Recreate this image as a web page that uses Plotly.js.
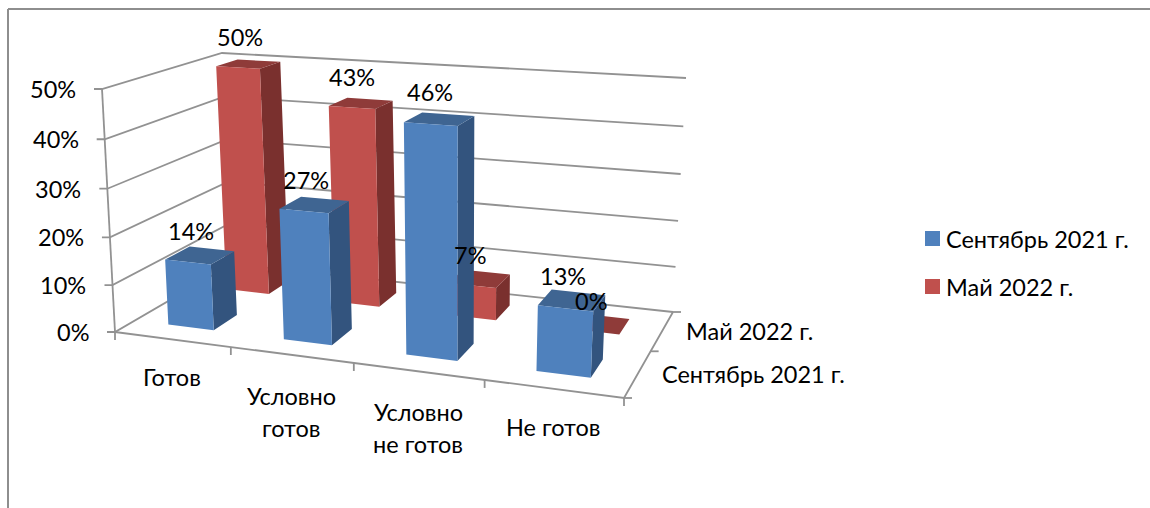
<!DOCTYPE html>
<html><head><meta charset="utf-8">
<script src="https://cdn.plot.ly/plotly-3.0.1.min.js"></script>
<style>html,body{margin:0;padding:0;background:#fff}#c{width:1150px;height:508px}</style>
</head><body><div id="c"></div>
<script>
const categories = [['Готов'], ['Условно','готов'], ['Условно','не готов'], ['Не готов']];
const seriesNames = ['Сентябрь 2021 г.', 'Май 2022 г.'];
const september = [14, 27, 46, 13];
const may = [50, 43, 7, 0];
const valueTicks = [0, 10, 20, 30, 40, 50];

const FONT = 'Lato, "Open Sans", sans-serif';
const FS = 23.5;
const BLUE = {front:'#4F81BD', top:'#3F6592', side:'#33547E'};
const RED  = {front:'#C0504D', top:'#8F3B39', side:'#7A302E'};
const GRID = '#929292';

// Projection of the chart box (category, series, value) onto the page
function squareToQuad(q){
  const [p0,p1,p2,p3]=q;
  const sx=p0[0]-p1[0]+p2[0]-p3[0], sy=p0[1]-p1[1]+p2[1]-p3[1];
  const d1x=p1[0]-p2[0], d1y=p1[1]-p2[1], d2x=p3[0]-p2[0], d2y=p3[1]-p2[1];
  const den=d1x*d2y-d2x*d1y;
  const g=(sx*d2y-d2x*sy)/den, h=(d1x*sy-sx*d1y)/den;
  const a=p1[0]-p0[0]+g*p1[0], b=p3[0]-p0[0]+h*p3[0];
  const d=p1[1]-p0[1]+g*p1[1], e=p3[1]-p0[1]+h*p3[1];
  return (u,v)=>{const w=g*u+h*v+1;return [(a*u+b*v+p0[0])/w,(d*u+e*v+p0[1])/w];};
}
const floorQ = squareToQuad([[115,332],[624,398],[673,312],[232,264]]);
const ceilQ  = squareToQuad([[102,89],[637,125],[686,78],[222,53]]);
const nC = categories.length, nS = seriesNames.length, vMax = 50;
function P(c,s,val){
  const u=c/nC, v=s/nS, t=val/vMax, tt=t*(1-0.043*(1-t));
  const a=floorQ(u,v), b=ceilQ(u,v);
  return [a[0]+(b[0]-a[0])*tt, a[1]+(b[1]-a[1])*tt];
}

const traces=[];
function lineTrace(paths,width){
  const x=[],y=[];
  paths.forEach(pts=>{pts.forEach(p=>{x.push(p[0]);y.push(p[1]);});x.push(null);y.push(null);});
  traces.push({type:'scatter',mode:'lines',x,y,line:{color:GRID,width:width||1.8},hoverinfo:'skip',showlegend:false});
}
// walls, floor, ticks
const walls=[];
valueTicks.forEach(v=>{
  const a=P(0,0,v);
  walls.push([[a[0]-8,a[1]],a,P(0,nS,v),P(nC,nS,v)]);
});
walls.push([P(0,0,vMax),P(0,0,0)]);
walls.push([P(0,0,0),P(nC,0,0),P(nC,nS,0)]);
for(let c=0;c<=nC;c++){const p=P(c,0,0);walls.push([p,[p[0],p[1]+8]]);}
for(let s=0;s<=nS;s++){const p=P(nC,s,0);walls.push([p,[p[0]+8,p[1]]]);}
lineTrace(walls);

// bars
const HW=0.2, HD=0.2;
function barFaces(vals,s,col,name){
  const faces={side:[],top:[],front:[]};
  vals.forEach((val,c)=>{
    const l=c+0.5-HW, r=c+0.5+HW, n=s+0.5-HD, f=s+0.5+HD;
    faces.side.push([P(r,n,0),P(r,f,0),P(r,f,val),P(r,n,val)]);
    faces.top.push([P(l,n,val),P(r,n,val),P(r,f,val),P(l,f,val)]);
    faces.front.push([P(l,n,0),P(r,n,0),P(r,n,val),P(l,n,val)]);
  });
  ['side','top','front'].forEach(k=>{
    const x=[],y=[];
    faces[k].forEach(poly=>{poly.forEach(p=>{x.push(p[0]);y.push(p[1]);});x.push(poly[0][0],null);y.push(poly[0][1],null);});
    traces.push({type:'scatter',mode:'lines',x,y,fill:'toself',fillcolor:col[k],line:{width:0,color:col[k]},hoverinfo:'skip',showlegend:false,name});
  });
}
barFaces(may,1,RED,seriesNames[1]);
barFaces(september,0,BLUE,seriesNames[0]);

const ann=[];
const txt=(x,y,text,xanchor)=>ann.push({x,y,text,xref:'x',yref:'y',showarrow:false,xanchor:xanchor||'center',yanchor:'middle',
  font:{family:FONT,size:FS,color:'#000'},borderpad:0});

// legend: keys and names
const legendColors=[BLUE.front,RED.front];
seriesNames.forEach((n,i)=>{
  const y=238.5+i*48;
  traces.push({type:'scatter',mode:'markers',x:[932.5],y:[y],name:n,hoverinfo:'name',showlegend:false,
    marker:{symbol:'square',size:15,color:legendColors[i],line:{width:0}}});
  txt(945,y,n,'left');
});

// value tick labels
valueTicks.forEach(v=>{const p=P(0,0,v);txt(p[0]-25,p[1],v+'%','right');});
// category labels
categories.forEach((lines,c)=>{
  const p=P(c+0.5,0,0);
  const start=lines.length===1?38:41;
  lines.forEach((ln,i)=>txt(p[0],p[1]+start+i*32,ln));
});
// series labels
seriesNames.forEach((n,s)=>{const p=P(nC,s+0.5,0);txt(p[0]+23,p[1]+0.5,n,'left');});
// data labels
[[may,1],[september,0]].forEach(([vals,s])=>{
  vals.forEach((val,c)=>{const p=P(c+0.5,s+0.5,val);txt(p[0]-9,p[1]-23-val*0.08,val+'%');});
});

const layout={
  width:1150,height:508,margin:{l:0,r:0,t:0,b:0},paper_bgcolor:'#fff',plot_bgcolor:'#fff',
  xaxis:{range:[0,1150],visible:false,fixedrange:true},
  yaxis:{range:[508,0],visible:false,fixedrange:true},
  showlegend:false,
  annotations:ann,
  shapes:[
    {type:'line',xref:'x',yref:'y',x0:8,y0:9,x1:1150,y1:9,line:{color:'#8e8e8e',width:2}},
    {type:'line',xref:'x',yref:'y',x0:8,y0:9,x1:8,y1:508,line:{color:'#8e8e8e',width:2}}
  ]
};
Plotly.newPlot('c',traces,layout,{displayModeBar:false,responsive:false});
</script></body></html>
